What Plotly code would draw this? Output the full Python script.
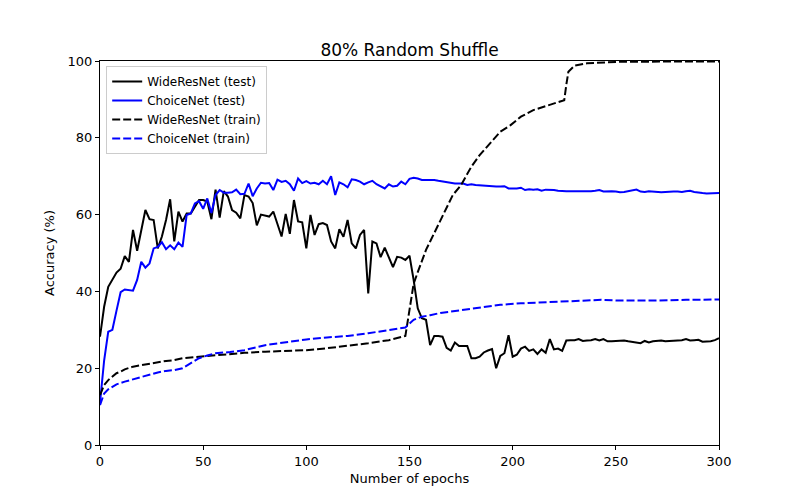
import plotly.graph_objects as go

# test accuracy, read every 2 epochs
epochs_test = list(range(0, 301, 2))

wrn_test = [
    28.2, 36.0, 41.2, 43.0, 44.9, 45.9, 49.2, 47.7, 56.0, 50.6,
    56.0, 61.2, 58.8, 58.6, 51.2, 54.3, 58.6, 64.0, 53.0, 60.8,
    58.2, 60.3, 60.3, 62.0, 63.8, 63.8, 63.4, 58.8, 66.5, 59.2,
    66.1, 64.7, 61.2, 60.5, 59.0, 65.1, 64.7, 63.0, 57.2, 60.0,
    59.7, 59.5, 60.8, 57.8, 54.3, 60.2, 55.0, 63.8, 58.2, 58.0,
    51.2, 59.9, 54.7, 57.5, 57.8, 57.3, 53.0, 51.2, 56.2, 54.2,
    58.6, 52.5, 51.2, 54.7, 56.0, 39.5, 53.0, 52.5, 48.9, 51.4,
    48.6, 46.3, 49.0, 48.8, 48.2, 49.3, 43.0, 35.6, 33.0, 32.6,
    26.0, 28.4, 28.4, 28.2, 25.3, 24.6, 26.7, 25.8, 25.8, 25.8,
    22.6, 22.6, 23.0, 24.1, 24.6, 25.0, 20.0, 23.2, 23.9, 28.6,
    23.0, 23.5, 25.1, 25.6, 24.5, 24.9, 23.7, 24.9, 24.0, 27.6,
    24.9, 25.1, 24.5, 27.2, 27.3, 27.3, 27.6, 27.1, 27.2, 27.3,
    27.6, 27.2, 27.6, 27.0, 27.0, 27.1, 27.2, 27.2, 27.0, 26.8,
    26.7, 26.5, 27.1, 26.7, 27.0, 27.1, 27.2, 27.0, 27.1, 27.2,
    27.3, 27.3, 27.6, 27.2, 27.3, 27.4, 26.9, 26.9, 27.0, 27.3,
    27.8,
]

choice_test = [
    11.0, 22.0, 29.5, 30.0, 35.0, 39.8, 40.5, 40.3, 40.2, 43.0,
    47.7, 46.2, 47.3, 51.2, 51.6, 52.8, 51.0, 52.0, 51.0, 52.7,
    51.6, 59.9, 60.3, 62.9, 63.5, 61.5, 64.2, 60.4, 65.1, 66.4,
    65.7, 65.7, 65.8, 66.5, 65.3, 65.4, 68.1, 64.8, 66.8, 68.3,
    68.1, 68.2, 66.4, 69.1, 68.5, 68.8, 67.9, 66.2, 69.4, 68.2,
    68.7, 68.1, 68.3, 67.9, 68.8, 67.9, 70.0, 65.1, 68.4, 67.9,
    67.1, 69.2, 69.0, 68.6, 67.9, 68.4, 68.8, 67.9, 67.3, 66.8,
    67.9, 67.3, 67.5, 68.6, 67.9, 69.3, 69.6, 69.4, 69.0, 69.0,
    69.0, 69.0, 68.8, 68.6, 68.4, 68.3, 68.1, 68.1, 68.1, 67.7,
    67.9, 67.7, 67.6, 67.6, 67.5, 67.3, 67.3, 67.3, 67.4, 66.8,
    66.8, 66.8, 67.0, 66.4, 66.6, 66.5, 66.6, 66.2, 66.5, 66.5,
    66.4, 66.2, 66.1, 66.1, 66.1, 66.1, 66.1, 66.0, 66.1, 66.1,
    66.2, 66.4, 66.0, 66.1, 66.1, 66.0, 65.8, 65.9, 66.1, 66.2,
    66.5, 66.0, 65.9, 66.1, 66.0, 65.9, 65.8, 65.9, 66.0, 66.0,
    66.0, 65.9, 66.1, 66.2, 65.9, 65.7, 65.6, 65.5, 65.5, 65.5,
    65.6,
]

# train accuracy, smooth curves read at fewer epochs
wrn_train_epochs = [0, 2, 4, 6, 8, 10, 12, 16, 20, 24, 28, 32, 36, 40, 44, 48, 52,
                    60, 70, 80, 90, 100, 110, 120, 130, 140, 146, 148, 150, 152,
                    154, 156, 158, 160, 165, 171, 175, 180, 184, 189, 194, 199,
                    204, 210, 217, 224, 225, 226, 227, 230, 236, 252, 300]
wrn_train = [13.0, 15.6, 16.9, 17.8, 18.7, 19.1, 19.7, 20.4, 20.8, 21.3, 21.5, 21.9,
             22.1, 22.6, 22.8, 23.0, 23.2, 23.6, 24.0, 24.3, 24.5, 24.7, 25.2, 25.8,
             26.5, 27.3, 28.0, 28.4, 35.2, 42.0, 45.0, 48.0, 50.8, 53.0, 58.6, 65.1,
             67.7, 72.5, 75.5, 78.6, 81.6, 83.3, 85.5, 87.2, 88.5, 89.6, 89.8, 93.8,
             97.2, 98.8, 99.4, 99.8, 99.9]

choice_train_epochs = [0, 2, 4, 6, 8, 12, 16, 20, 24, 28, 32, 36, 40, 44, 48, 52, 56,
                       63, 70, 80, 90, 100, 110, 120, 130, 140, 148, 152, 156, 160,
                       165, 175, 184, 194, 204, 214, 223, 233, 243, 252, 268, 284, 300]
choice_train = [10.4, 13.4, 14.5, 15.1, 15.8, 16.5, 17.1, 17.8, 18.4, 18.9, 19.3,
                19.5, 20.0, 21.4, 22.6, 23.3, 23.9, 24.2, 24.7, 26.0, 26.7, 27.5,
                28.0, 28.4, 29.1, 29.9, 30.6, 32.6, 33.4, 33.8, 34.4, 35.1, 35.8,
                36.5, 36.9, 37.1, 37.3, 37.6, 37.8, 37.6, 37.6, 37.8, 37.9]

fig = go.Figure()
fig.add_trace(go.Scatter(x=epochs_test, y=wrn_test, mode="lines", name="WideResNet (test)",
                         line=dict(color="black", width=2)))
fig.add_trace(go.Scatter(x=epochs_test, y=choice_test, mode="lines", name="ChoiceNet (test)",
                         line=dict(color="blue", width=2)))
fig.add_trace(go.Scatter(x=wrn_train_epochs, y=wrn_train, mode="lines", name="WideResNet (train)",
                         line=dict(color="black", width=2, dash="8px,3px")))
fig.add_trace(go.Scatter(x=choice_train_epochs, y=choice_train, mode="lines", name="ChoiceNet (train)",
                         line=dict(color="blue", width=2, dash="8px,3px")))

axis_style = dict(showgrid=False, zeroline=False, showline=True, linecolor="black", linewidth=1,
                  mirror=True, ticks="outside", ticklen=4, tickcolor="black",
                  tickfont=dict(size=13, color="black"))

# page body adds ~8px, so margins are pulled in to land the axes where the reference has them
fig.update_layout(
    width=800, height=500,
    margin=dict(l=92, r=89, t=53, b=63),
    paper_bgcolor="white", plot_bgcolor="white",
    font=dict(family="DejaVu Sans", color="black", size=13),
    title=dict(text="80% Random Shuffle", x=0.5, xref="paper", xanchor="center",
               y=1, yref="paper", yanchor="bottom", pad=dict(b=5), font=dict(size=17)),
    xaxis=dict(range=[0, 300], dtick=50,
               title=dict(text="Number of epochs", standoff=6, font=dict(size=13)), **axis_style),
    yaxis=dict(range=[0, 100], dtick=20,
               title=dict(text="Accuracy (%)", standoff=10, font=dict(size=13)), **axis_style),
    legend=dict(x=0.01, y=0.987, xanchor="left", yanchor="top", bgcolor="white",
                bordercolor="#cccccc", borderwidth=1, font=dict(size=12), tracegroupgap=0,
                itemwidth=30),
    showlegend=True,
)

fig.write_html("out.html")
